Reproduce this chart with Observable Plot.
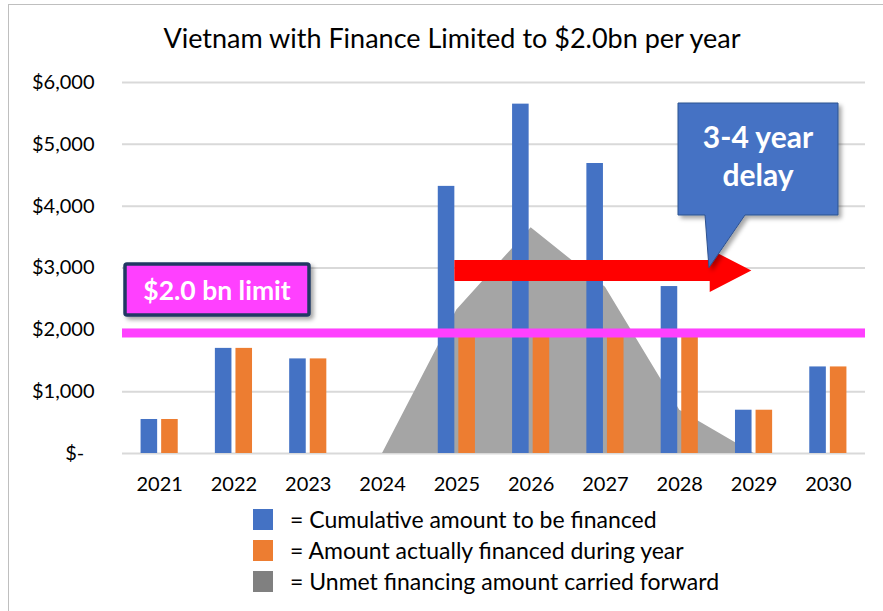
<!DOCTYPE html>
<html><head><meta charset="utf-8">
<script src="https://cdn.jsdelivr.net/npm/d3@7"></script>
<script src="https://cdn.jsdelivr.net/npm/@observablehq/plot@0.6"></script>
<style>
body{margin:0;width:883px;height:611px;overflow:hidden;background:#fff;font-family:Lato,sans-serif;}
#wrap{position:relative;width:883px;height:611px;overflow:hidden;}
#frame{position:absolute;left:8px;top:4px;width:1000px;height:1000px;border-left:1px solid #bfbfbf;border-top:1px solid #bfbfbf;}
#title{position:absolute;left:0;width:904px;top:24px;text-align:center;font-size:27px;line-height:1;color:#000;}
#chart{position:absolute;left:0;top:0;}
#legend{position:absolute;left:253px;top:509px;}
.row{display:flex;align-items:center;height:21px;margin-bottom:10px;}
.sw{width:20px;height:21px;margin-right:17px;}
.lt{font-size:23px;line-height:21px;color:#000;white-space:nowrap;}
</style>
</head><body>
<div id="wrap">
  <div id="frame"></div>
  <div id="chart"></div>
  <div id="title">Vietnam with Finance Limited to $2.0bn per year</div>
  <div id="legend"></div>
</div>
<script>
// ---- data ----
const years = [2021, 2022, 2023, 2024, 2025, 2026, 2027, 2028, 2029, 2030];
const cumulative = [550, 1700, 1530, 0, 4320, 5650, 4690, 2700, 700, 1400];
const financed = [550, 1700, 1530, 0, 1950, 1950, 1950, 1950, 700, 1400];
const unmet = [0, 0, 0, 0, 2320, 3650, 2690, 700, 0, 0];
const limit = 1950;
const yTicks = [0, 1000, 2000, 3000, 4000, 5000, 6000];
const seriesNames = ["= Cumulative amount to be financed", "= Amount actually financed during year", "= Unmet financing amount carried forward"];
const seriesColors = ["#4472c4", "#ed7d31", "#a5a5a5"];
const titleText = "Vietnam with Finance Limited to $2.0bn per year";
const limitLabel = "$2.0 bn limit";
const calloutLines = ["3-4 year", "delay"];
const arrowLevel = 2950;

const rows = years.map((year, i) => ({year, cumulative: cumulative[i], financed: financed[i], unmet: unmet[i]}));
const fmt = v => v === 0 ? "$-\u00a0\u00a0" : "$" + d3.format(",")(v);

const plot = Plot.plot({
  width: 883,
  height: 500,
  marginTop: 82,
  marginBottom: 47,
  marginLeft: 122,
  marginRight: 18,
  style: {fontFamily: "Lato, sans-serif", fontSize: "20px", color: "#000", background: "transparent", overflow: "visible"},
  x: {type: "linear", domain: [2020.5, 2030.5]},
  y: {domain: [0, 6000]},
  marks: [
    Plot.gridY(yTicks, {stroke: "#d9d9d9", strokeOpacity: 1, strokeWidth: 2}),
    Plot.areaY(rows, {x: "year", y: "unmet", fill: seriesColors[2]}),
    Plot.rectY(rows, {x1: d => d.year - 0.25, x2: d => d.year - 0.027, y: "cumulative", fill: seriesColors[0]}),
    Plot.rectY(rows, {x1: d => d.year + 0.027, x2: d => d.year + 0.25, y: "financed", fill: seriesColors[1]}),
    Plot.ruleY([limit], {stroke: "#ff40ff", strokeWidth: 9}),
    Plot.axisY({ticks: yTicks, tickFormat: fmt, tickSize: 0, tickPadding: 28, fontSize: 20, label: null}),
    Plot.axisX({ticks: years, tickFormat: d => String(d), tickSize: 0, tickPadding: 23, fontSize: 20, label: null})
  ]
});
document.getElementById("chart").appendChild(plot);
document.getElementById("title").textContent = titleText;

// ---- annotations (positioned through the plot's scales) ----
const xs = plot.scale("x"), ys = plot.scale("y");
const svg = d3.select(plot);
const defs = svg.append("defs");
defs.append("filter").attr("id", "sh").attr("x", "-20%").attr("y", "-20%").attr("width", "150%").attr("height", "150%")
  .append("feDropShadow").attr("dx", 3).attr("dy", 3).attr("stdDeviation", 2).attr("flood-color", "#000").attr("flood-opacity", 0.35);

// red arrow
const x0 = xs.apply(2025 - 0.027), xh = xs.apply(2028.41), xt = xs.apply(2028.97), yc = ys.apply(arrowLevel);
svg.append("path")
  .attr("d", `M${x0},${yc-10.5}H${xh}V${yc-21.5}L${xt},${yc}L${xh},${yc+21.5}V${yc+10.5}H${x0}Z`)
  .attr("fill", "#ff0000");

// limit box
const g1 = svg.append("g");
g1.append("rect").attr("x", 125).attr("y", 264).attr("width", 184).attr("height", 51)
  .attr("fill", "#ff40ff").attr("stroke", "#203864").attr("stroke-width", 3.5).attr("rx", 2).attr("filter", "url(#sh)");
g1.append("text").attr("x", 217).attr("y", 300).attr("text-anchor", "middle")
  .attr("fill", "#fff").attr("font-weight", "bold").attr("font-size", 26.5).text(limitLabel);

// callout
const g2 = svg.append("g");
const tipX = xs.apply(2028.4), tipY = yc - 3;
g2.append("path").attr("d", `M678,103H838V215H745L${tipX},${tipY}L705,215H678Z`)
  .attr("fill", "#4472c4").attr("stroke", "#2f528f").attr("stroke-width", 1).attr("filter", "url(#sh)");
g2.selectAll("text.c").data(calloutLines).join("text")
  .attr("x", 758).attr("y", (d, i) => 148 + i * 38).attr("text-anchor", "middle")
  .attr("fill", "#fff").attr("font-weight", "bold").attr("font-size", 30).text(d => d);

// legend
const lg = d3.select("#legend");
seriesNames.forEach((n, i) => {
  const r = lg.append("div").attr("class", "row");
  r.append("div").attr("class", "sw").style("background", i === 2 ? "#808080" : seriesColors[i]);
  r.append("div").attr("class", "lt").text(n);
});
</script>
</body></html>
